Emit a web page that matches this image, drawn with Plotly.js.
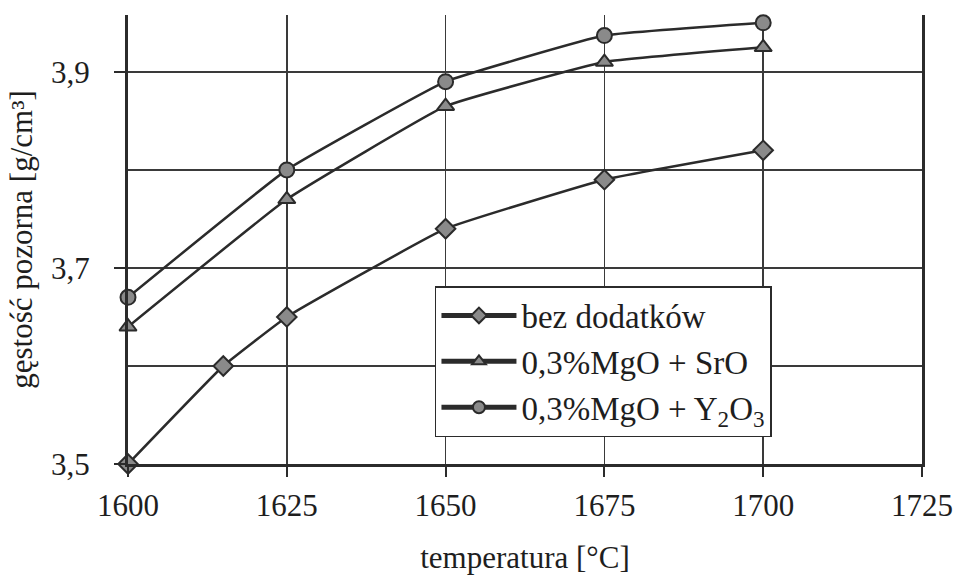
<!DOCTYPE html>
<html>
<head>
<meta charset="utf-8">
<script src="https://cdn.plot.ly/plotly-3.0.1.min.js"></script>
<style>html,body{margin:0;padding:0;background:#fff;}#chart{width:954px;height:575px;}</style>
</head>
<body>
<div id="chart"></div>
<script>
// Data
const seriesNames = ["bez dodatków", "0,3%MgO + SrO", "0,3%MgO + Y<sub>2</sub>O<sub>3</sub>"];
const tempBez = [1600, 1615, 1625, 1650, 1675, 1700];
const densBez = [3.50, 3.60, 3.65, 3.74, 3.79, 3.82];
const tempSrO = [1600, 1625, 1650, 1675, 1700];
const densSrO = [3.64, 3.77, 3.865, 3.91, 3.925];
const tempY2O3 = [1600, 1625, 1650, 1675, 1700];
const densY2O3 = [3.67, 3.80, 3.89, 3.937, 3.95];
const xTicks = [1600, 1625, 1650, 1675, 1700, 1725];

const lineCol = "#2b2b2b";
const fillCol = "#8a8a8a";
const fontFam = "Liberation Serif";

function mk(x, y, name, symbol, size, grp) {
  return {
    x: x, y: y, name: name, type: "scatter", mode: "lines+markers",
    legendgroup: grp,
    line: {color: lineCol, width: 2.5, shape: "spline", smoothing: 0.3},
    marker: {symbol: symbol, size: size, color: fillCol, line: {color: lineCol, width: 2}},
    cliponaxis: false
  };
}

const data = [
  mk(tempBez, densBez, seriesNames[0], "diamond", 15, "a"),
  mk(tempSrO, densSrO, seriesNames[1], "triangle-up", 15, "b"),
  mk(tempY2O3, densY2O3, seriesNames[2], "circle", 15, "c")
];

const layout = {
  width: 954, height: 575,
  margin: {l: 128, r: 32, t: 15, b: 111},
  paper_bgcolor: "#fff", plot_bgcolor: "#fff",
  font: {family: fontFam, size: 31, color: "#1e1e1e"},
  showlegend: true,
  legend: {
    x: 0.3866, y: 0.3964, xanchor: "left", yanchor: "top",
    bgcolor: "#fff", bordercolor: "#2b2b2b", borderwidth: 1.5,
    font: {family: fontFam, size: 33, color: "#1e1e1e"},
    itemwidth: 75, tracegroupgap: 6, traceorder: "normal", itemsizing: "constant"
  },
  xaxis: {
    range: [1600, 1725], tickvals: xTicks, ticktext: xTicks.map(String),
    showline: true, linecolor: "#2b2b2b", linewidth: 3,
    showgrid: true, gridcolor: "#3a3a3a", gridwidth: 1.5,
    ticks: "outside", ticklen: 10, tickwidth: 2, tickcolor: "#2b2b2b",
    zeroline: false, ticklabelstandoff: 2,
    tickfont: {family: fontFam, size: 31},
    title: {text: "temperatura [°C]", font: {family: fontFam, size: 31}, standoff: 47}
  },
  yaxis: {
    range: [3.5, 3.958], tick0: 3.5, dtick: 0.2, tickformat: ".1f",
    showline: true, linecolor: "#2b2b2b", linewidth: 3, mirror: true,
    showgrid: true, gridcolor: "#3a3a3a", gridwidth: 1.5,
    ticks: "outside", ticklen: 11, tickwidth: 2, tickcolor: "#2b2b2b",
    minor: {dtick: 0.1, tick0: 3.5, showgrid: true, gridcolor: "#3a3a3a", gridwidth: 1.5, ticks: ""},
    zeroline: false, ticklabelstandoff: 18,
    tickfont: {family: fontFam, size: 31},
    title: {text: "gęstość pozorna [g/cm³]", font: {family: fontFam, size: 31}, standoff: 10}
  },
  separators: ", "
};

Plotly.newPlot("chart", data, layout, {displayModeBar: false, staticPlot: true});
</script>
</body>
</html>
